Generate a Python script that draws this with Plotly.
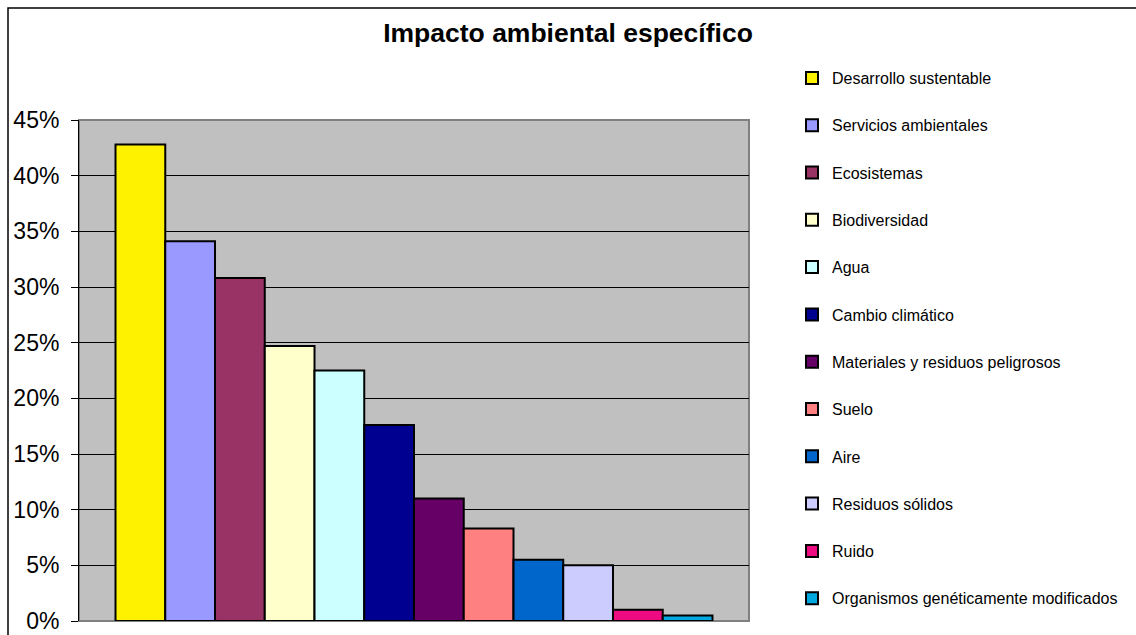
import plotly.graph_objects as go

categories = ["Desarrollo sustentable", "Servicios ambientales", "Ecosistemas", "Biodiversidad",
              "Agua", "Cambio climático", "Materiales y residuos peligrosos", "Suelo", "Aire",
              "Residuos sólidos", "Ruido", "Organismos genéticamente modificados"]
values = [0.428, 0.341, 0.308, 0.247, 0.225, 0.176, 0.110, 0.083, 0.055, 0.050, 0.010, 0.005]
colors = ["#FFF200", "#9999FF", "#993366", "#FFFFCC", "#CCFFFF", "#000090", "#660066",
          "#FF8080", "#0066CC", "#CCCCFF", "#EE0A80", "#00A8E0"]
tick_vals = [0, 0.05, 0.10, 0.15, 0.20, 0.25, 0.30, 0.35, 0.40, 0.45]
tick_text = ["0%", "5%", "10%", "15%", "20%", "25%", "30%", "35%", "40%", "45%"]

FONT = "Liberation Sans, Arial, sans-serif"

fig = go.Figure()
for i, (name, v, c) in enumerate(zip(categories, values, colors)):
    fig.add_trace(go.Bar(
        x=[""], y=[v], name=name, legendgroup=f"g{i}",
        marker=dict(color=c, line=dict(color="black", width=2)),
        hovertemplate=f"{name}: %{{y:.1%}}<extra></extra>",
    ))

L, R, T, B = 79, 387, 119.5, 14
W, H = 1136, 635
pw, ph = W - L - R, H - T - B

fig.update_layout(
    width=W, height=H,
    margin=dict(l=L, r=R, t=T, b=B),
    paper_bgcolor="white",
    plot_bgcolor="#C0C0C0",
    barmode="group",
    bargap=0.109,
    bargroupgap=0,
    font=dict(family=FONT, color="black"),
    title=dict(text="<b>Impacto ambiental específico</b>", x=0.5, xanchor="center",
               y=1 - 33 / H, yanchor="middle", font=dict(size=26.5, family=FONT, color="black")),
    showlegend=True,
    legend=dict(xref="container", yref="container",
                x=792 / W, xanchor="left", y=1 - 61 / H, yanchor="top",
                font=dict(size=16, family=FONT, color="black"),
                tracegroupgap=23.5, bgcolor="rgba(0,0,0,0)", itemclick=False,
                maxheight=630),
    xaxis=dict(showticklabels=False, ticks="", showgrid=False, zeroline=False,
               showline=True, linecolor="#808080", linewidth=1, fixedrange=True,
               automargin=False),
    yaxis=dict(range=[0, 0.45], tickvals=tick_vals, ticktext=tick_text,
               tickfont=dict(size=23, family=FONT, color="black"),
               ticks="outside", ticklen=7, tickcolor="black", tickwidth=1,
               ticklabelstandoff=7,
               showgrid=True, gridcolor="black", gridwidth=1, zeroline=False,
               showline=True, linecolor="black", linewidth=1, fixedrange=True,
               automargin=False),
    shapes=[
        dict(type="rect", xref="paper", yref="paper", x0=0, x1=1, y0=0, y1=1,
             line=dict(color="#808080", width=2), layer="below"),
        dict(type="rect", xref="paper", yref="paper",
             x0=(8 - L) / pw, x1=(W + 5 - L) / pw,
             y0=-(B + 5) / ph, y1=1 + (T - 7.5) / ph,
             line=dict(color="black", width=1.5)),
    ],
)

fig.write_html("out.html", config={"displayModeBar": False},
               post_script="document.body.style.margin='0';document.body.style.overflow='hidden';")
